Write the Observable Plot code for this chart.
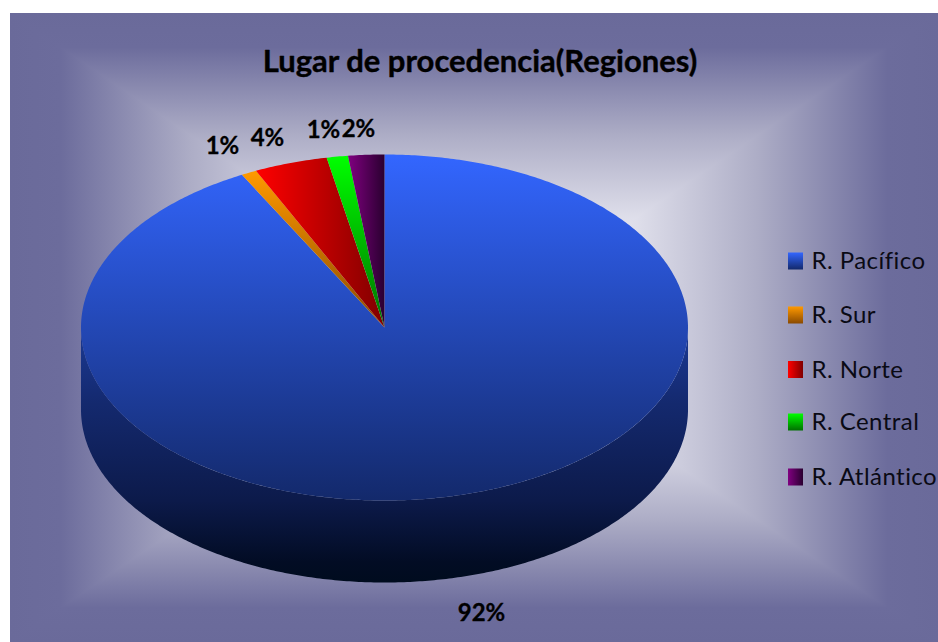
<!DOCTYPE html>
<html lang="es">
<head>
<meta charset="utf-8">
<script src="https://cdn.jsdelivr.net/npm/d3@7"></script>
<script src="https://cdn.jsdelivr.net/npm/@observablehq/plot@0.6"></script>
<style>
  html, body { margin: 0; padding: 0; background: #fff; overflow: hidden; }
  svg { display: block; }
  .legend-label text { letter-spacing: 0.45px; }
</style>
</head>
<body>
<div id="chart"></div>
<script>
// ---- data
const regions = ["R. Pacífico", "R. Sur", "R. Norte", "R. Central", "R. Atlántico"];
const shares = [92.22, 0.82, 3.91, 1.13, 1.92];
const titleText = "Lugar de procedencia(Regiones)";

// ---- layout (pixels of the 938x642 frame)
const W = 938, H = 642;
const panel = {x1: 9, x2: 938, y1: 12, y2: 642, cx: 474, cy: 327};
const pie = {cx: 384, cy: 327, rx: 303.5, ry: 173, depth: 82};
const labelAt = [[481, 613], [222, 146], [267, 138], [323, 130], [358, 129]];
const legendRows = [261, 315, 369.5, 422, 477];
const swatch = {x1: 788, x2: 803, half: 8.5};

// ---- gradients: [id, x2, y2, stops]
const bgStops = [[0, "#ffffff"], [0.35, "#dedeea"], [0.61, "#adadc6"], [0.89, "#6c6c9c"], [1, "#6a6a9a"]];
const gradients = [
  ["g0", 0, 1, [[0, "#3366ff"], [1, "#13296b"]]],
  ["g1", 0, 1, [[0, "#ff9900"], [1, "#8a4a00"]]],
  ["g2", 1, 0, [[0, "#ff0000"], [1, "#800000"]]],
  ["g3", 0, 1, [[0, "#00ff00"], [1, "#007000"]]],
  ["g4", 1, 0, [[0, "#800080"], [1, "#2a0030"]]],
  ["gSide", 0, 1, [[0, "#1b3a96"], [0.3, "#14296e"], [0.68, "#0c1a4a"], [0.92, "#020c24"], [1, "#000c1e"]]]
];
const bgGradients = [
  ["bgTop", 0, 0, 0, 1], ["bgBottom", 0, 1, 0, 0], ["bgLeft", 0, 0, 1, 0], ["bgRight", 1, 0, 0, 0]
];

function defsMark() {
  const defs = d3.create("svg:defs");
  const addStops = (g, stops) => stops.forEach(([o, c]) =>
    g.append("stop").attr("offset", o).attr("stop-color", c));
  for (const [id, x2, y2, stops] of gradients) {
    addStops(defs.append("linearGradient").attr("id", id)
      .attr("x1", 0).attr("y1", 0).attr("x2", x2).attr("y2", y2), stops);
  }
  // "rectangular" panel gradient: dark at each edge, white at the centre
  for (const [id, x1, y1, x2, y2] of bgGradients) {
    addStops(defs.append("linearGradient").attr("id", id)
      .attr("x1", x1).attr("y1", y1).attr("x2", x2).attr("y2", y2),
      bgStops.map(([o, c]) => [1 - o, c]).reverse());
  }
  return defs.node();
}

// ---- geometry derived from the shares
const total = d3.sum(shares);
const ends = d3.cumsum(shares).map(v => v / total * 2 * Math.PI);
const starts = [0, ...ends.slice(0, -1)];
const rim = (a, dy = 0) => ({x: pie.cx + pie.rx * Math.sin(a), y: pie.cy - pie.ry * Math.cos(a) + dy});
const arc = (a0, a1, dy = 0) => {
  const n = Math.max(2, Math.ceil((a1 - a0) / 0.01));
  return d3.range(n + 1).map(i => rim(a0 + (a1 - a0) * i / n, dy));
};
const wedges = shares.map((_, i) => [{x: pie.cx, y: pie.cy}, ...arc(starts[i], ends[i])]);
const side = [...arc(Math.PI / 2, 3 * Math.PI / 2), ...arc(Math.PI / 2, 3 * Math.PI / 2, pie.depth).reverse()];

const {x1, x2, y1, y2, cx, cy} = panel;
const panels = [
  ["bgTop", [{x: x1, y: y1}, {x: x2, y: y1}, {x: cx, y: cy}]],
  ["bgBottom", [{x: x1, y: y2}, {x: x2, y: y2}, {x: cx, y: cy}]],
  ["bgLeft", [{x: x1, y: y1}, {x: x1, y: y2}, {x: cx, y: cy}]],
  ["bgRight", [{x: x2, y: y1}, {x: x2, y: y2}, {x: cx, y: cy}]]
];
const poly = (pts, fill, extra = {}) => Plot.line(pts, {x: "x", y: "y", fill, stroke: "none", ...extra});

const legendData = regions.map((name, i) => ({name, i, y: legendRows[i]}));
const pctData = shares.map((v, i) => ({text: `${Math.round(v)}%`, x: labelAt[i][0], y: labelAt[i][1]}));

const chart = Plot.plot({
  width: W, height: H,
  margin: 0,
  x: {domain: [0, W], range: [0, W], axis: null},
  y: {domain: [0, H], range: [0, H], axis: null},
  style: {background: "#fff", fontFamily: "Lato, 'Noto Sans', sans-serif"},
  marks: [
    defsMark,
    ...panels.map(([id, pts]) => poly(pts, `url(#${id})`, {shapeRendering: "crispEdges"})),
    poly(side, "url(#gSide)"),
    ...wedges.map((pts, i) => poly(pts, `url(#g${i})`)),
    Plot.text([titleText], {
      x: 479.5, y: 62, text: d => d, fontSize: 31, fontWeight: 700, fill: "#000", stroke: "#000", strokeWidth: 0.4, textAnchor: "middle", lineAnchor: "middle"
    }),
    Plot.text(pctData, {
      x: "x", y: "y", text: "text", fontSize: 24, fontWeight: 700, fill: "#000", stroke: "#000", strokeWidth: 0.3, textAnchor: "middle", lineAnchor: "middle"
    }),
    ...legendData.map(d => Plot.rect([d], {
      x1: () => swatch.x1, x2: () => swatch.x2,
      y1: r => r.y - swatch.half, y2: r => r.y + swatch.half,
      fill: `url(#g${d.i})`
    })),
    Plot.text(legendData, {
      x: 811, y: "y", text: "name", fontSize: 24, fill: "#0a0a14", textAnchor: "start", lineAnchor: "middle", className: "legend-label"
    })
  ]
});
document.getElementById("chart").appendChild(chart);
</script>
</body>
</html>
